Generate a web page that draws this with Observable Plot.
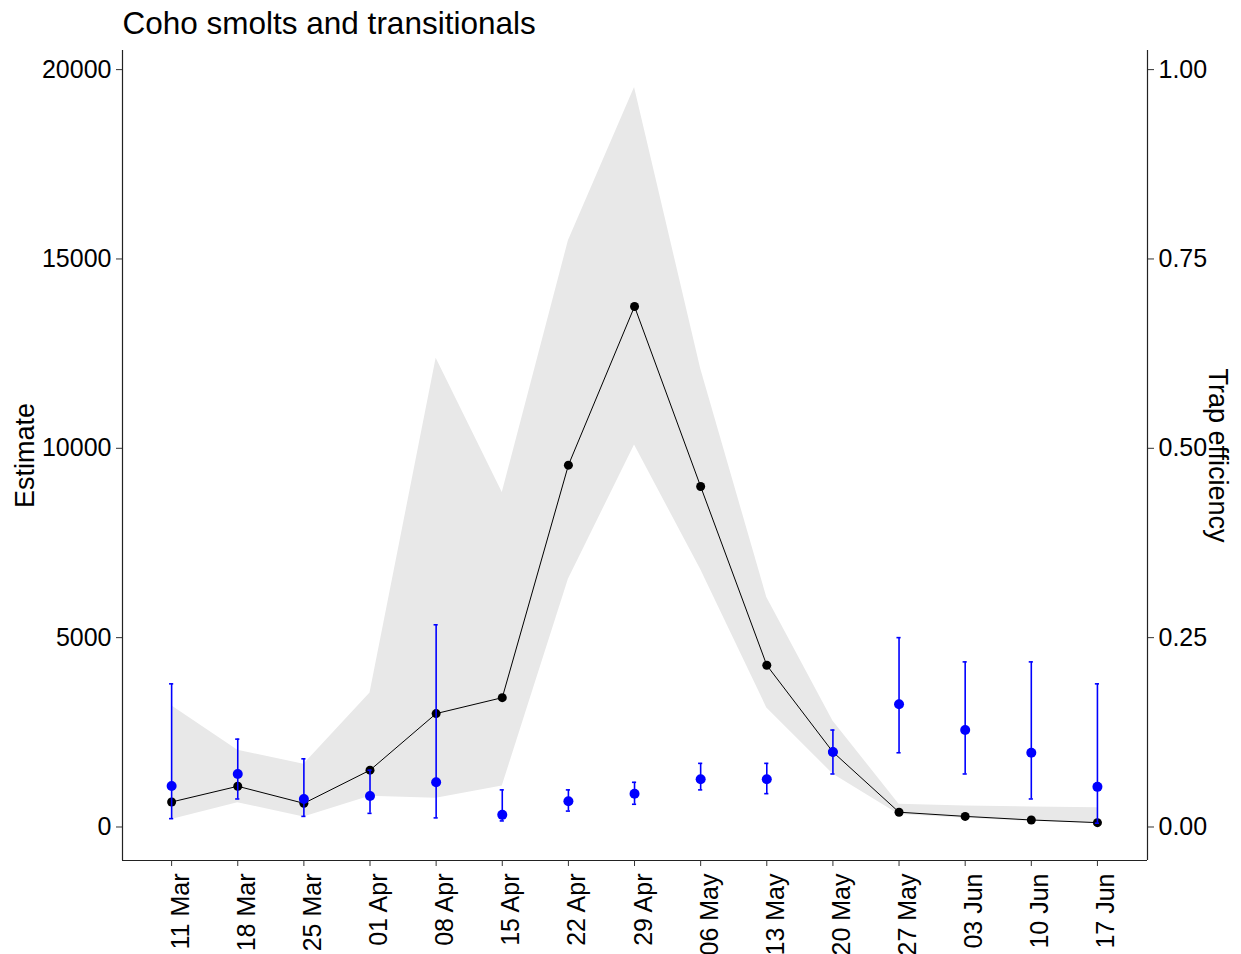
<!DOCTYPE html>
<html>
<head>
<meta charset="utf-8">
<script src="https://cdn.jsdelivr.net/npm/d3@7"></script>
<script src="https://cdn.jsdelivr.net/npm/@observablehq/plot@0.6"></script>
<style>
  html, body { margin: 0; padding: 0; background: #fff; }
  #chart { width: 1241px; height: 954px; }
</style>
</head>
<body>
<div id="chart"></div>
<script>
// ---- data ----
const dates = ["2019-03-11","2019-03-18","2019-03-25","2019-04-01","2019-04-08","2019-04-15","2019-04-22",
               "2019-04-29","2019-05-06","2019-05-13","2019-05-20","2019-05-27","2019-06-03","2019-06-10","2019-06-17"];
const estimate = [660, 1075, 625, 1500, 2995, 3415, 9555, 13745, 8990, 4270, 1980, 390, 280, 185, 115];
const estLower = [200, 640, 265, 810, 760, 1080, 6545, 10085, 6800, 3145, 1400, 330, 230, 150, 90];
const estUpper = [3200, 2025, 1655, 3540, 12375, 8830, 15480, 19530, 12100, 6060, 2800, 600, 555, 528, 510];
const efficiency = [0.054, 0.070, 0.037, 0.041, 0.059, 0.016, 0.034, 0.044, 0.063, 0.063, 0.099, 0.162, 0.128, 0.098, 0.053];
const effLower   = [0.011, 0.037, 0.014, 0.018, 0.012, 0.008, 0.021, 0.030, 0.049, 0.044, 0.070, 0.098, 0.070, 0.037, 0.005];
const effUpper   = [0.189, 0.116, 0.090, 0.075, 0.267, 0.049, 0.049, 0.059, 0.084, 0.084, 0.128, 0.250, 0.218, 0.218, 0.189];
const estimateTicks = [0, 5000, 10000, 15000, 20000];
const efficiencyTicks = [0, 0.25, 0.5, 0.75, 1];
const secondaryRatio = 20000; // trap efficiency 1.00 corresponds to estimate 20000
const title = "Coho smolts and transitionals";
const yTitle = "Estimate";
const y2Title = "Trap efficiency";

// ---- build table ----
const DAY = 864e5;
const rows = dates.map((d, i) => ({
  date: new Date(d + "T00:00:00Z"),
  est: estimate[i], lo: estLower[i], hi: estUpper[i],
  eff: efficiency[i] * secondaryRatio,
  effLo: effLower[i] * secondaryRatio,
  effHi: effUpper[i] * secondaryRatio
}));
const tickDates = rows.map(r => r.date);
const xDomain = [new Date(+tickDates[0] - 5.2 * DAY), new Date(+tickDates[tickDates.length - 1] + 5.3 * DAY)];
const yDomain = [-885, 20505];
const fmt = d3.utcFormat("%d %b");
const blue = "#0000ff";
const capHalf = 0.22 * DAY;

const chart = Plot.plot({
  width: 1241,
  height: 954,
  marginLeft: 122,
  marginRight: 94,
  marginTop: 50,
  marginBottom: 94,
  style: { fontFamily: "'Liberation Sans', Arial, sans-serif", fontSize: "25px", color: "#000", background: "#fff" },
  x: { type: "utc", domain: xDomain },
  y: { domain: yDomain },
  marks: [
    Plot.areaY(rows, { x: "date", y1: "lo", y2: "hi", fill: "#e8e8e8" }),
    Plot.line(rows, { x: "date", y: "est", stroke: "#000", strokeWidth: 1 }),
    Plot.dot(rows, { x: "date", y: "est", r: 4.5, fill: "#000", stroke: "none" }),
    Plot.ruleX(rows, { x: "date", y1: "effLo", y2: "effHi", stroke: blue, strokeWidth: 1.6 }),
    Plot.ruleY(rows, { y: "effHi", x1: d => new Date(+d.date - capHalf), x2: d => new Date(+d.date + capHalf), stroke: blue, strokeWidth: 1.6 }),
    Plot.ruleY(rows, { y: "effLo", x1: d => new Date(+d.date - capHalf), x2: d => new Date(+d.date + capHalf), stroke: blue, strokeWidth: 1.6 }),
    Plot.dot(rows, { x: "date", y: "eff", r: 5, fill: blue, stroke: "none" }),
    // axis lines (classic theme)
    Plot.ruleX([xDomain[0], xDomain[1]], { stroke: "#222", strokeWidth: 1.2 }),
    Plot.ruleY([yDomain[0]], { stroke: "#222", strokeWidth: 1.2 }),
    // axes: x tick marks, then x labels (shifted slightly right like the reference)
    Plot.axisX({ ticks: tickDates, tickFormat: () => "", tickSize: 6, stroke: "#333", label: null }),
    Plot.axisX({ ticks: tickDates, tickFormat: fmt, tickRotate: -90, tickSize: 0, tickPadding: 13, dx: 9, fontSize: 25, label: null }),
    Plot.axisY({ anchor: "left", ticks: estimateTicks, tickFormat: d3.format("d"), tickSize: 6, tickPadding: 5, fontSize: 25, stroke: "#333", label: null }),
    Plot.axisY({ anchor: "right", ticks: efficiencyTicks.map(e => e * secondaryRatio), tickFormat: d => (d / secondaryRatio).toFixed(2), tickSize: 6, tickPadding: 5, fontSize: 25, stroke: "#333", label: null }),
    // titles
    Plot.text([title], { frameAnchor: "top-left", textAnchor: "start", lineAnchor: "middle", dy: -27, fontSize: 31.5, fill: "#000" }),
    Plot.text([yTitle], { frameAnchor: "left", textAnchor: "middle", rotate: -90, dx: -97, fontSize: 27, fill: "#000" }),
    Plot.text([y2Title], { frameAnchor: "right", textAnchor: "middle", rotate: 90, dx: 70, fontSize: 27, fill: "#000" })
  ]
});
document.getElementById("chart").appendChild(chart);
</script>
</body>
</html>
